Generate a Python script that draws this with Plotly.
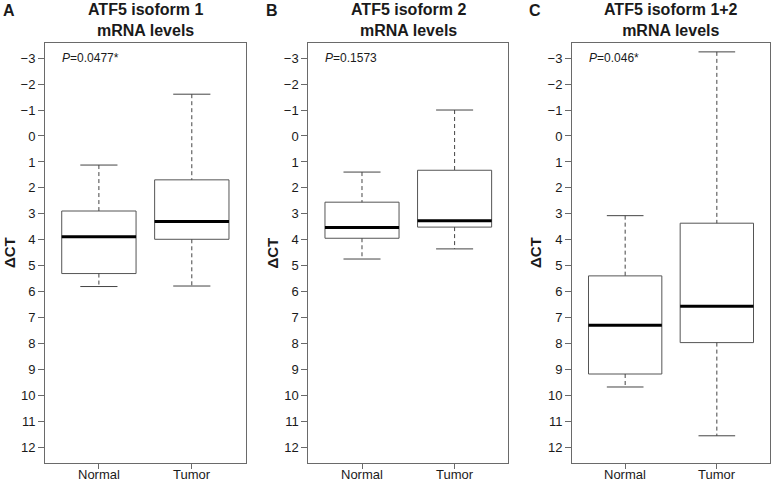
import plotly.graph_objects as go

# ---- data ----
groups = ["Normal", "Tumor"]
panel_letters = ["A", "B", "C"]
titles = ["ATF5 isoform 1<br>mRNA levels",
          "ATF5 isoform 2<br>mRNA levels",
          "ATF5 isoform 1+2<br>mRNA levels"]
p_labels = ["<i>P</i>=0.0477*", "<i>P</i>=0.1573", "<i>P</i>=0.046*"]
y_ticks = list(range(-3, 13))

# per panel: [Normal, Tumor]  (ΔCT values)
whisker_min = [[1.12, -1.61], [1.39, -1.00], [3.07, -3.24]]
q1_vals     = [[2.89, 1.69], [2.55, 1.32], [5.39, 3.36]]
median_vals = [[3.88, 3.29], [3.53, 3.27], [7.29, 6.56]]
q3_vals     = [[5.30, 3.98], [3.94, 3.51], [9.17, 7.96]]
whisker_max = [[5.80, 5.78], [4.74, 4.35], [9.67, 11.55]]

# ---- style ----
W, H = 773, 482
FONT = "Liberation Sans, Arial, sans-serif"
frame_col = "#6a6a6a"
box_col = "#555555"
whisk_col = "#444444"
text_col = "#1a1a1a"
BOXW = 0.8
CAPW = 0.4

x_domains_px = [(45, 245.7), (308.3, 508.3), (572, 770)]
y_top_px, y_bot_px = 42.7, 463.3
y_domain = [1 - y_bot_px / H, 1 - y_top_px / H]
x_domains = [[a / W, b / W] for a, b in x_domains_px]

fig = go.Figure()

for p in range(3):
    xa = "x" if p == 0 else f"x{p+1}"
    ya = "y" if p == 0 else f"y{p+1}"
    for i, g in enumerate(groups):
        lo, q1, md, q3, hi = (whisker_min[p][i], q1_vals[p][i], median_vals[p][i],
                              q3_vals[p][i], whisker_max[p][i])
        # dashed whiskers
        fig.add_trace(go.Scatter(
            x=[i, i, None, i, i], y=[lo, q1, None, q3, hi], mode="lines",
            line=dict(color=whisk_col, width=1, dash="4px,3px"),
            xaxis=xa, yaxis=ya, showlegend=False, hoverinfo="skip"))
        # caps
        fig.add_trace(go.Scatter(
            x=[i - CAPW / 2, i + CAPW / 2, None, i - CAPW / 2, i + CAPW / 2],
            y=[lo, lo, None, hi, hi], mode="lines",
            line=dict(color=whisk_col, width=1),
            xaxis=xa, yaxis=ya, showlegend=False, hoverinfo="skip"))
        # box
        fig.add_trace(go.Box(
            x=[i], q1=[q1], median=[md], q3=[q3], lowerfence=[q1], upperfence=[q3],
            width=BOXW, whiskerwidth=0, fillcolor="white",
            line=dict(color=box_col, width=1), name=g,
            xaxis=xa, yaxis=ya, showlegend=False, hoverinfo="skip"))
        # thick median
        fig.add_trace(go.Scatter(
            x=[i - BOXW / 2, i + BOXW / 2], y=[md, md], mode="lines",
            line=dict(color="black", width=3),
            xaxis=xa, yaxis=ya, showlegend=False, hoverinfo="skip"))

layout = dict(
    width=W, height=H, margin=dict(l=0, r=0, t=0, b=0),
    paper_bgcolor="white", plot_bgcolor="white",
    font=dict(family=FONT, color=text_col, size=13),
    showlegend=False,
)
annotations = []
for p in range(3):
    sx = "" if p == 0 else str(p + 1)
    layout["xaxis" + sx] = dict(
        domain=x_domains[p], range=[-0.58, 1.58], anchor="y" + sx,
        tickmode="array", tickvals=[0, 1], showticklabels=False,
        showline=True, mirror=True, linecolor=frame_col, linewidth=1,
        ticks="outside", ticklen=5, tickcolor=frame_col,
        showgrid=False, zeroline=False)
    layout["yaxis" + sx] = dict(
        domain=y_domain, range=[12.61, -3.594], anchor="x" + sx,
        tickmode="array", tickvals=y_ticks,
        ticktext=[str(v).replace("-", "\u2212") for v in y_ticks],
        showline=True, mirror=True, linecolor=frame_col, linewidth=1,
        ticks="outside", ticklen=6, tickcolor=frame_col,
        showgrid=False, zeroline=False, tickfont=dict(size=13, color=text_col))
    x0, x1 = x_domains_px[p]
    # category labels
    for i, g in enumerate(groups):
        annotations.append(dict(
            text=g, xref="x" + sx, yref="paper", x=i, y=1 - 474 / H,
            xanchor="center", yanchor="middle", showarrow=False,
            font=dict(size=13, family=FONT, color=text_col)))
    # title
    annotations.append(dict(
        text="<b>" + titles[p].replace("<br>", "</b><br><b>") + "</b>",
        xref="paper", yref="paper", x=(x0 + x1) / 2 / W, y=1 - 20 / H,
        xanchor="center", yanchor="middle", showarrow=False,
        font=dict(size=16, family=FONT, color=text_col)))
    # panel letter
    lx = [9, 271.5, 535][p]
    annotations.append(dict(
        text="<b>" + panel_letters[p] + "</b>", xref="paper", yref="paper",
        x=lx / W, y=1 - 10 / H, xanchor="center", yanchor="middle", showarrow=False,
        font=dict(size=16, family=FONT, color=text_col)))
    # y title
    annotations.append(dict(
        text="<b>ΔCT</b>", xref="paper", yref="paper", textangle=-90,
        x=lx / W, y=1 - 253 / H, xanchor="center", yanchor="middle", showarrow=False,
        font=dict(size=15, family=FONT, color=text_col)))
    # p value
    annotations.append(dict(
        text=p_labels[p], xref="x" + sx + " domain", yref="y" + sx,
        x=15 / (x1 - x0), y=-3, xanchor="left", yanchor="middle", showarrow=False,
        font=dict(size=12, family=FONT, color=text_col)))
layout["annotations"] = annotations
fig.update_layout(**layout)

fig.write_html("out.html", config={"displayModeBar": False},
               post_script="document.body.style.margin='0px';document.body.style.overflow='hidden';")
